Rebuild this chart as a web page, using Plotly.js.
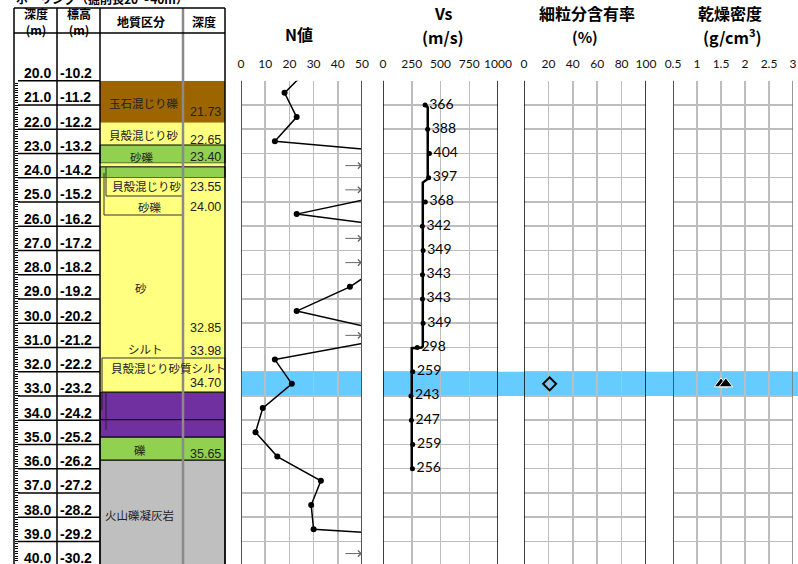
<!DOCTYPE html>
<html>
<head>
<meta charset="utf-8">
<script src="https://cdn.plot.ly/plotly-3.0.1.min.js"></script>
<style>
  body { margin: 0; background: #fff; }
  #chart { width: 798px; height: 564px; }
</style>
</head>
<body>
<div id="chart"></div>
<script>
// depth / elevation column
var depthLabels = ['20.0','21.0','22.0','23.0','24.0','25.0','26.0','27.0','28.0','29.0','30.0',
  '31.0','32.0','33.0','34.0','35.0','36.0','37.0','38.0','39.0','40.0'];
var elevLabels = ['-10.2','-11.2','-12.2','-13.2','-14.2','-15.2','-16.2','-17.2','-18.2','-19.2','-20.2',
  '-21.2','-22.2','-23.2','-24.2','-25.2','-26.2','-27.2','-28.2','-29.2','-30.2'];

// geology
var layerTop = 20.0;
var layerNames = ['玉石混じり礫','貝殻混じり砂','砂礫','貝殻混じり砂','砂礫','砂','シルト','貝殻混じり砂質シルト','礫','火山礫凝灰岩'];
var layerBottoms = [21.73, 22.65, 23.40, 23.55, 24.00, 32.85, 33.98, 34.70, 35.65, 40.00];
var layerColors = ['#9C6500','#FFFF80','#92D050','#FFFF80','#92D050','#FFFF80','#7030A0','#7030A0','#92D050','#BFBFBF'];

// SPT N value
var nDepths = [19.5, 20.5, 21.5, 22.5, 23.5, 24.5, 25.5, 26.5, 27.5, 28.5, 29.5, 30.5, 31.5, 32.5, 33.5, 34.5, 35.5, 36.5, 37.5, 38.5, 39.5];
var nValues = [28, 18, 23, 14, 130, 70, 23, 100, 60, 45, 23, 68, 14, 21, 9, 6, 15, 33, 29, 30, 200];

// Vs
var vsDepths = [21, 22, 23, 24, 25, 26, 27, 28, 29, 30, 31, 32, 33, 34, 35, 36];
var vsValues = [366, 388, 404, 397, 368, 342, 349, 343, 343, 349, 298, 259, 243, 247, 259, 256];
var vsStepDepths = [21.0, 21.1, 24.05, 24.2, 30.95, 31.0, 31.03, 36.0];
var vsStepValues = [366, 389, 389, 346, 346, 336, 250, 250];

// lab tests
var sampleTop = 32.0, sampleBottom = 33.0;
var fcDepths = [32.5];
var fcValues = [21];
var rhoDepths = [32.5, 32.5];
var rhoValues = [1.50, 1.60];

var W = 798, H = 564;
function px(x) { return x / W; }
function py(y) { return 1 - y / H; }
var plotTop = 80.75;
var depthMax = 39.93;
// second depth scale over the full page height, same px per metre
var depthTopFull = layerTop - plotTop * (depthMax - layerTop) / (H - plotTop);

var jp = '"Noto Sans CJK JP", sans-serif';
var num = '"Liberation Sans", Arial, sans-serif';
var tickFont = {family: 'Lato, sans-serif', size: 12, color: '#111'};

var traces = [
  {x: nValues, y: nDepths, xaxis: 'x', yaxis: 'y', type: 'scatter', mode: 'lines+markers',
   line: {color: '#000', width: 1.5}, marker: {color: '#000', size: 6}, hoverinfo: 'none'},
  {x: vsStepValues, y: vsStepDepths, xaxis: 'x2', yaxis: 'y', type: 'scatter', mode: 'lines',
   line: {color: '#000', width: 2.5}, hoverinfo: 'none'},
  {x: vsValues, y: vsDepths, xaxis: 'x2', yaxis: 'y', type: 'scatter', mode: 'markers+text',
   text: vsValues.map(String), textposition: 'middle right',
   textfont: {family: 'Lato, sans-serif', size: 14, color: '#000'},
   marker: {color: '#000', size: 5}, hoverinfo: 'none'},
  {x: fcValues, y: fcDepths, xaxis: 'x3', yaxis: 'y', type: 'scatter', mode: 'markers',
   marker: {symbol: 'diamond-open', size: 10, color: '#000', line: {width: 2}}, hoverinfo: 'none'},
  {x: rhoValues, y: rhoDepths, xaxis: 'x4', yaxis: 'y', type: 'scatter', mode: 'markers',
   marker: {symbol: 'triangle-up', size: 12, color: '#000', line: {color: '#fff', width: 1}}, hoverinfo: 'none'},
  // holder for the table scale
  {x: [], y: [], xaxis: 'x5', yaxis: 'y2', type: 'scatter', mode: 'markers', hoverinfo: 'none'}
];

var shapes = [];
var annotations = [];

function note(x, y, text, font, extra) {
  var a = {xref: 'paper', yref: 'paper', x: px(x), y: py(y), text: text, showarrow: false,
    xanchor: 'center', yanchor: 'middle', font: font};
  for (var k in (extra || {})) a[k] = extra[k];
  annotations.push(a);
}

// sample band
shapes.push({type: 'rect', xref: 'x', yref: 'y', x0: 0, x1: 50, y0: sampleTop, y1: sampleBottom,
  fillcolor: '#66CCFF', line: {width: 0}, layer: 'below'});
shapes.push({type: 'rect', xref: 'paper', yref: 'y', x0: px(383), x1: 1, y0: sampleTop, y1: sampleBottom,
  fillcolor: '#66CCFF', line: {width: 0}, layer: 'below'});

// geology column
var layerStart = layerTop;
for (var i = 0; i < layerBottoms.length; i++) {
  var edged = layerColors[i] !== '#FFFF80' && layerColors[i] !== '#9C6500';
  shapes.push({type: 'rect', xref: 'paper', yref: 'y', x0: px(100), x1: px(225), y0: layerStart, y1: layerBottoms[i],
    fillcolor: layerColors[i], line: {color: edged ? '#000' : 'rgba(0,0,0,0)', width: 1}, layer: 'below'});
  layerStart = layerBottoms[i];
}

// name labels: [x, anchor, y] in pixels
var namePos = [[107,'left',103],[107,'left',135],[142,'center',157],[110,'left',186],[150,'center',207],
  [141,'center',288],[145,'center',349],[109,'left',368],[140,'center',450],[103,'left',515]];
var depthPos = [112, 140, 157, 187, 207, 328, 351, 383, 454];
for (i = 0; i < layerNames.length; i++) {
  note(namePos[i][0], namePos[i][2], layerNames[i], {family: jp, size: 11.5, color: '#222'},
    {xanchor: namePos[i][1]});
  if (i < depthPos.length) {
    note(223, depthPos[i], layerBottoms[i].toFixed(2), {family: num, size: 12.5, color: '#222'},
      {xanchor: 'right'});
  }
}

// text box frames drawn in the geology column
function seg(x0, y0, x1, y1, c, w) {
  shapes.push({type: 'line', xref: 'paper', yref: 'paper', x0: px(x0), x1: px(x1), y0: py(y0), y1: py(y1),
    line: {color: c || '#000', width: w || 1}});
}
seg(106, 167, 106, 196, '#333'); seg(106, 196, 183, 196, '#333');
seg(104, 173, 104, 215, '#333'); seg(104, 215, 183, 215, '#333');
shapes.push({type: 'rect', xref: 'paper', yref: 'paper', x0: px(102), x1: px(225), y0: py(358), y1: py(392),
  line: {color: '#333', width: 1}});
seg(102, 392, 102, 410, '#222'); seg(106, 392, 106, 430, '#222');

// depth / elevation labels and row lines
for (i = 0; i < depthLabels.length; i++) {
  var d = parseFloat(depthLabels[i]);
  shapes.push({type: 'line', xref: 'paper', yref: 'y2', x0: px(18), x1: px(100), y0: d, y1: d,
    line: {color: '#000', width: 1.5}});
  annotations.push({xref: 'paper', yref: 'y2', x: px(22), y: d - 0.31, xanchor: 'left', yanchor: 'middle',
    text: '<b>' + depthLabels[i] + '</b>', showarrow: false, font: {family: num, size: 14, color: '#000'}});
  annotations.push({xref: 'paper', yref: 'y2', x: px(58), y: d - 0.31, xanchor: 'left', yanchor: 'middle',
    text: '<b>' + elevLabels[i] + '</b>', showarrow: false, font: {family: num, size: 14, color: '#000'}});
}

// table frame
[14, 57, 100, 225].forEach(function (x) { seg(x, 8, x, H, '#000', 1.5); });
seg(183, 8, 183, H, '#8a8a8a', 2.5);
seg(14, 8, 225, 8, '#000', 1.5);
seg(14, 33, 225, 33, '#000', 1.5);

var hdr = {family: jp, size: 12, color: '#000'};
note(36, 21, '<b>深度</b><br><b>(m)</b>', hdr);
note(79, 21, '<b>標高</b><br><b>(m)</b>', hdr);
note(141, 21, '<b>地質区分</b>', hdr);
note(204, 21, '<b>深度</b>', hdr);
note(14, -2, '<b>ボーリング（掘削長20～40m）</b>', {family: jp, size: 12, color: '#000'}, {xanchor: 'left'});

// panel titles
var ttl = {family: jp, size: 16, color: '#000'};
note(299, 34, '<b>N値</b>', ttl);
note(443, 13, '<b>Vs</b>', ttl);
note(443, 37, '<b>(m/s)</b>', ttl);
note(587, 13, '<b>細粒分含有率</b>', ttl);
note(585, 37, '<b>(%)</b>', {family: jp, size: 15, color: '#000'});
note(730, 13, '<b>乾燥密度</b>', ttl);
note(732, 37, '<b>(g/cm<sup>3</sup>)</b>', ttl);

// N over the scale -> arrow at the right edge
for (i = 0; i < nValues.length; i++) {
  if (nValues[i] > 50 && nDepths[i] > 20) {
    annotations.push({xref: 'x', yref: 'y', x: 50, y: nDepths[i], axref: 'x', ayref: 'y', ax: 42.5, ay: nDepths[i],
      text: '', showarrow: true, arrowhead: 4, arrowsize: 1.2, arrowwidth: 1, arrowcolor: '#666'});
  }
}

// panel borders
function border(ax, v, c, w) {
  shapes.push({type: 'line', xref: ax, yref: 'paper', x0: v, x1: v, y0: 0, y1: py(plotTop),
    line: {color: c, width: w}, layer: 'above'});
}
border('x', 0, '#555', 2); border('x', 50, '#555', 2);
border('x2', 0, '#000', 1.5); border('x2', 1000, '#000', 1.5);
border('x3', 0, '#000', 1.5); border('x3', 100, '#000', 1.5);
border('x4', 0.5, '#555', 2); border('x4', 3, '#777', 1.5);

function xax(dom, rng, vals, txt) {
  return {domain: [px(dom[0]), px(dom[1])], range: rng, anchor: 'y', side: 'top',
    tickvals: vals, ticktext: txt, ticks: '', ticklabelstandoff: 9, tickfont: tickFont,
    showgrid: true, gridcolor: '#bdbdbd', gridwidth: 1.5, zeroline: false, showline: false, fixedrange: true};
}

var layout = {
  width: W, height: H,
  margin: {l: 0, r: 0, t: 0, b: 0},
  paper_bgcolor: '#fff', plot_bgcolor: 'rgba(0,0,0,0)',
  showlegend: false,
  xaxis: xax([241, 362], [0, 50], [0, 10, 20, 30, 40, 50], ['0', '10', '20', '30', '40', '50']),
  xaxis2: xax([383, 498], [0, 1000], [0, 250, 500, 750, 1000], ['0', '250', '500', '750', '1000']),
  xaxis3: xax([524, 646], [0, 100], [0, 20, 40, 60, 80, 100], ['0', '20', '40', '60', '80', '100']),
  xaxis4: xax([673, 793], [0.5, 3], [0.5, 1, 1.5, 2, 2.5, 3], ['0.5', '1', '1.5', '2', '2.5', '3']),
  xaxis5: {domain: [px(14), px(225)], range: [0, 1], anchor: 'y2', visible: false, showgrid: false, fixedrange: true},
  yaxis: {
    domain: [0, py(plotTop)], range: [depthMax, layerTop], anchor: 'free', position: px(14), side: 'left',
    tick0: 20, dtick: 1, ticks: 'inside', ticklen: 5, tickcolor: '#000', tickwidth: 1,
    minor: {dtick: 0.1, ticks: 'inside', ticklen: 3, tickcolor: '#000', tickwidth: 1, showgrid: false},
    showticklabels: false, showgrid: true, gridcolor: '#bdbdbd', gridwidth: 1.5,
    zeroline: false, showline: false, fixedrange: true
  },
  yaxis2: {domain: [0, 1], range: [depthMax, depthTopFull], anchor: 'x5', visible: false, showgrid: false, fixedrange: true},
  shapes: shapes,
  annotations: annotations
};

Plotly.newPlot('chart', traces, layout, {displayModeBar: false, staticPlot: true});
</script>
</body>
</html>
